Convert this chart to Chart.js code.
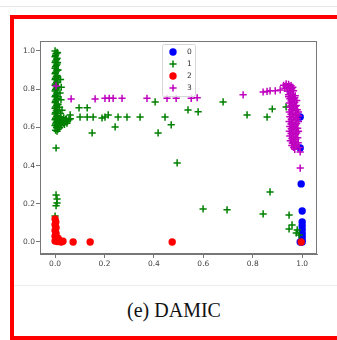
<!DOCTYPE html>
<html>
<head>
<meta charset="utf-8">
<script src="https://cdn.jsdelivr.net/npm/chart.js@4/dist/chart.umd.min.js"></script>
<style>
  html, body { margin: 0; padding: 0; background: #fff; overflow: hidden; }
  body { width: 337px; height: 340px; position: relative; }
  #topline { position: absolute; left: 0; top: 6px; width: 337px; height: 1px; background: #e6e6e6; }
  #frame { position: absolute; left: 10px; top: 15px; width: 340px; height: 325px; border: 4px solid #ff0000; box-sizing: border-box; }
  #sep { position: absolute; left: 14px; top: 285px; width: 330px; height: 1px; background: #ececec; }
  #caption { position: absolute; left: 74px; top: 300px; width: 200px; text-align: center;
    font-family: "Liberation Serif", serif; font-size: 20px; line-height: 20px; color: #111; }
  #chart { position: absolute; left: 0; top: 0; }
</style>
</head>
<body>
<div id="topline"></div>
<div id="frame"></div>
<div id="sep"></div>
<div id="caption">(e) DAMIC</div>
<canvas id="chart" width="337" height="280"></canvas>
<script>
// series labels and colours
const classNames = ['0', '1', '2', '3'];
const classColors = ['#0000ff', '#008000', '#ff0000', '#bf00bf'];

// tick labels
const xTicks = [0, 0.2, 0.4, 0.6, 0.8, 1.0];
const yTicks = [0, 0.2, 0.4, 0.6, 0.8, 1.0];

// class 0 (blue dots)
const class0 = [
  [0.992, 0.654], [0.992, 0.492], [0.996, 0.304], [1.0, 0.162], [1.0, 0.105],
  [1.0, 0.085], [1.0, 0.065], [1.0, 0.045], [1.0, 0.028], [1.0, 0.012],
  [0.992, 0.0], [1.0, 0.0]
];

// class 1 (green crosses)
const class1 = [
  [0.000, 1.000], [0.004, 0.985], [0.000, 0.970], [0.006, 0.955], [0.000, 0.940],
  [0.005, 0.925], [0.000, 0.910], [0.006, 0.895], [0.000, 0.880], [0.005, 0.865],
  [0.000, 0.850], [0.006, 0.835], [0.000, 0.820], [0.005, 0.805], [0.000, 0.790],
  [0.006, 0.775], [0.000, 0.760], [0.005, 0.745], [0.000, 0.730], [0.006, 0.715],
  [0.000, 0.700], [0.005, 0.685], [0.000, 0.670], [0.006, 0.655], [0.000, 0.640],
  [0.005, 0.625], [0.000, 0.610], [0.006, 0.598], [0.002, 0.585],
  [0.008, 0.992], [0.002, 0.977], [0.008, 0.962], [0.002, 0.947], [0.008, 0.932],
  [0.002, 0.917], [0.008, 0.902], [0.002, 0.887], [0.008, 0.872], [0.002, 0.857],
  [0.008, 0.842], [0.002, 0.827], [0.008, 0.812], [0.002, 0.797], [0.008, 0.782],
  [0.002, 0.767], [0.008, 0.752], [0.002, 0.737], [0.008, 0.722], [0.002, 0.707],
  [0.008, 0.692], [0.002, 0.677], [0.008, 0.662], [0.002, 0.647], [0.008, 0.632],
  [0.002, 0.617], [0.008, 0.604],
  [0.010, 0.990], [0.010, 0.940], [0.012, 0.900], [0.010, 0.860], [0.012, 0.810],
  [0.010, 0.760], [0.012, 0.720], [0.010, 0.680], [0.012, 0.640],
  [0.022, 0.850], [0.025, 0.810], [0.020, 0.780], [0.024, 0.745], [0.018, 0.705],
  [0.022, 0.672], [0.028, 0.690],
  [0.015, 0.620], [0.018, 0.598], [0.022, 0.632], [0.026, 0.612], [0.030, 0.640],
  [0.034, 0.622], [0.040, 0.630], [0.045, 0.644], [0.050, 0.632], [0.056, 0.640],
  [0.012, 0.590], [0.008, 0.580], [0.028, 0.639], [0.062, 0.645],
  [0.020, 0.615], [0.030, 0.625], [0.038, 0.615], [0.042, 0.640], [0.016, 0.635],
  [0.024, 0.648], [0.035, 0.650], [0.048, 0.622],
  [0.061, 0.665], [0.097, 0.702], [0.130, 0.702], [0.101, 0.654], [0.130, 0.654],
  [0.154, 0.654], [0.190, 0.649], [0.202, 0.654], [0.215, 0.665], [0.243, 0.602],
  [0.255, 0.654], [0.291, 0.654], [0.344, 0.654], [0.150, 0.571], [0.417, 0.571],
  [0.405, 0.733], [0.445, 0.654], [0.470, 0.613], [0.494, 0.414], [0.538, 0.691],
  [0.579, 0.681], [0.680, 0.733], [0.777, 0.665], [0.858, 0.654], [0.879, 0.696],
  [0.935, 0.707],
  [0.004, 0.492], [0.004, 0.246], [0.008, 0.225], [0.008, 0.204], [0.004, 0.190],
  [0.000, 0.136],
  [0.599, 0.173], [0.696, 0.168], [0.842, 0.147], [0.870, 0.262], [0.947, 0.141],
  [0.959, 0.089], [0.947, 0.068], [0.976, 0.047], [0.988, 0.037], [0.980, 0.063]
];

// class 2 (red dots)
const class2 = [
  [0.000, 0.120], [0.003, 0.105], [0.000, 0.090], [0.004, 0.075], [0.000, 0.060],
  [0.004, 0.045], [0.000, 0.030], [0.006, 0.018], [0.000, 0.005], [0.010, 0.002],
  [0.018, 0.008], [0.025, 0.000], [0.032, 0.004], [0.012, 0.020],
  [0.073, 0.000], [0.142, 0.000], [0.474, 0.000], [0.996, 0.000]
];

// class 3 (magenta crosses)
const class3 = [
  [0.004, 0.817], [0.065, 0.749], [0.162, 0.749], [0.202, 0.752], [0.219, 0.752],
  [0.235, 0.752], [0.271, 0.752], [0.372, 0.752], [0.453, 0.752], [0.490, 0.752],
  [0.551, 0.752], [0.575, 0.755], [0.761, 0.770], [0.842, 0.785], [0.858, 0.788],
  [0.870, 0.791], [0.891, 0.791], [0.911, 0.796],
  [0.925, 0.820], [0.935, 0.828], [0.945, 0.825], [0.955, 0.818], [0.930, 0.805],
  [0.942, 0.808], [0.958, 0.802], [0.940, 0.790], [0.952, 0.785], [0.965, 0.792],
  [0.948, 0.815], [0.935, 0.815], [0.950, 0.795], [0.962, 0.810],
  [0.945, 0.770], [0.960, 0.772], [0.972, 0.765], [0.950, 0.750], [0.965, 0.745],
  [0.978, 0.740], [0.948, 0.728], [0.962, 0.722], [0.976, 0.715], [0.950, 0.705],
  [0.966, 0.700], [0.980, 0.692], [0.948, 0.680], [0.962, 0.675], [0.978, 0.668],
  [0.950, 0.655], [0.965, 0.650], [0.980, 0.645], [0.947, 0.630], [0.962, 0.625],
  [0.978, 0.620], [0.950, 0.605], [0.966, 0.600], [0.982, 0.595], [0.948, 0.580],
  [0.962, 0.575], [0.978, 0.570], [0.950, 0.555], [0.966, 0.550], [0.982, 0.545],
  [0.952, 0.530], [0.968, 0.525], [0.984, 0.520], [0.958, 0.505], [0.975, 0.500],
  [0.988, 0.495], [0.970, 0.485],
  [0.955, 0.760], [0.970, 0.755], [0.955, 0.738], [0.970, 0.732], [0.955, 0.715],
  [0.972, 0.710], [0.956, 0.692], [0.972, 0.688], [0.955, 0.668], [0.972, 0.662],
  [0.956, 0.642], [0.972, 0.638], [0.955, 0.618], [0.972, 0.612], [0.956, 0.592],
  [0.972, 0.588], [0.955, 0.568], [0.972, 0.562], [0.958, 0.542], [0.974, 0.538],
  [0.960, 0.518], [0.976, 0.512], [0.965, 0.495], [0.985, 0.660], [0.985, 0.630],
  [0.945, 0.760], [0.985, 0.580], [0.985, 0.680],
  [0.992, 0.471], [0.992, 0.387]
];

const classData = [class0, class1, class2, class3];
const classStyles = ['circle', 'cross', 'circle', 'cross'];

// matplotlib-ish box around the axes + legend inside, top centre
const axesBoxPlugin = {
  id: 'axesBox',
  afterDraw(chart) {
    const ctx = chart.ctx;
    const a = chart.chartArea;
    ctx.save();
    ctx.strokeStyle = '#777';
    ctx.lineWidth = 1;
    ctx.strokeRect(a.left + 0.5, a.top + 0.5, a.right - a.left - 1, a.bottom - a.top - 1);

    // legend
    const bx = 162, by = 44, bw = 33, bh = 52;
    ctx.fillStyle = 'rgba(255,255,255,0.8)';
    ctx.strokeStyle = '#d6d6d6';
    ctx.beginPath();
    ctx.roundRect(bx + 0.5, by + 0.5, bw, bh, 2);
    ctx.fill();
    ctx.stroke();
    ctx.font = '7.5px "DejaVu Sans"';
    ctx.textBaseline = 'middle';
    chart.data.datasets.forEach((ds, i) => {
      const cy = by + 8 + i * 12;
      const r = ds.pointRadius;
      ctx.fillStyle = ds.backgroundColor;
      ctx.strokeStyle = ds.borderColor;
      ctx.lineWidth = 1.5;
      ctx.beginPath();
      if (ds.pointStyle === 'circle') {
        ctx.arc(bx + 11, cy, r, 0, Math.PI * 2);
        ctx.fill();
      } else {
        ctx.moveTo(bx + 11 - r, cy);
        ctx.lineTo(bx + 11 + r, cy);
        ctx.moveTo(bx + 11, cy - r);
        ctx.lineTo(bx + 11, cy + r);
        ctx.stroke();
      }
      ctx.fillStyle = '#333';
      ctx.fillText(ds.label, bx + 25, cy + 0.5);
    });
    ctx.restore();
  }
};

const datasets = classData.map((pts, i) => ({
  label: classNames[i],
  data: pts.map(p => ({ x: p[0], y: p[1] })),
  pointStyle: classStyles[i],
  pointRadius: classStyles[i] === 'circle' ? 3.7 : 3.6,
  pointBorderWidth: classStyles[i] === 'circle' ? 0 : 1.5,
  backgroundColor: classColors[i],
  borderColor: classColors[i],
  order: classData.length - i   // later classes drawn on top, like matplotlib
}));

const tickFont = { family: 'DejaVu Sans', size: 7.5 };

new Chart(document.getElementById('chart'), {
  type: 'scatter',
  data: { datasets: datasets },
  options: {
    responsive: false,
    animation: false,
    devicePixelRatio: 1,
    layout: { padding: { left: 0, top: 41, right: 20, bottom: 0 } },
    plugins: {
      legend: { display: false },
      tooltip: { enabled: false }
    },
    scales: {
      x: {
        type: 'linear',
        min: -0.061,
        max: 1.06,
        afterFit: s => { s.height = 26; },
        afterBuildTicks: s => { s.ticks = xTicks.map(v => ({ value: v })); },
        grid: { drawOnChartArea: false, drawTicks: true, tickLength: 4, color: '#777' },
        border: { display: true, color: '#777' },
        ticks: {
          font: tickFont, color: '#444', padding: 2, maxRotation: 0, autoSkip: false,
          callback: v => v.toFixed(1)
        }
      },
      y: {
        type: 'linear',
        min: -0.063,
        max: 1.052,
        afterFit: s => { s.width = 40; },
        afterBuildTicks: s => { s.ticks = yTicks.map(v => ({ value: v })); },
        grid: { drawOnChartArea: false, drawTicks: true, tickLength: 4, color: '#777' },
        border: { display: true, color: '#777' },
        ticks: {
          font: tickFont, color: '#444', padding: 1, autoSkip: false,
          callback: v => v.toFixed(1)
        }
      }
    }
  },
  plugins: [axesBoxPlugin]
});
</script>
</body>
</html>
